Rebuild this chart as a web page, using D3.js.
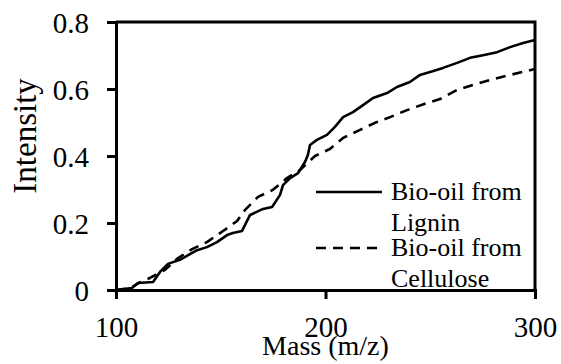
<!DOCTYPE html>
<html>
<head>
<meta charset="utf-8">
<script src="https://cdn.jsdelivr.net/npm/d3@7"></script>
<style>
  body { margin: 0; background: #fff; }
  svg { display: block; font-family: "Liberation Serif", "Times New Roman", serif; }
</style>
</head>
<body>
<div class="chart"></div>
<script>
// mass axis (m/z) and intensity for each bio-oil
const ligninMass = [100, 107.6, 110.5, 117.7, 121, 124.8, 130.5, 135.3, 138.7, 143.4, 148.2, 153, 155.8, 160.1,
  164, 170.2, 174.5, 178.3, 179.7, 183.1, 186.9, 190.2, 191.6, 192.6, 195.9, 200.7, 204.5, 208.4, 213.1,
  217.9, 222.7, 229.4, 234.1, 240.3, 245.1, 249.9, 256.1, 262.8, 269, 275.2, 281.9, 288.1, 294.3, 300];
const ligninIntensity = [0, 0.006, 0.021, 0.024, 0.054, 0.078, 0.09, 0.107, 0.119, 0.128, 0.143, 0.164, 0.17, 0.176,
  0.224, 0.242, 0.248, 0.284, 0.313, 0.334, 0.349, 0.382, 0.403, 0.433, 0.448, 0.463, 0.487, 0.516, 0.531,
  0.552, 0.573, 0.588, 0.606, 0.621, 0.642, 0.651, 0.663, 0.678, 0.693, 0.701, 0.71, 0.725, 0.737, 0.746];

const celluloseMass = [100, 106.7, 110.5, 116.2, 123.4, 129.1, 136.3, 143.4, 151.1, 157.8, 161.6, 167.8, 174.9,
  181.6, 187.8, 195, 202.1, 208.4, 216.5, 223.6, 230.8, 238.9, 248.4, 254.7, 262.8, 270.4, 278.5, 288.1, 296.2, 300];
const celluloseIntensity = [0, 0.005, 0.02, 0.036, 0.06, 0.093, 0.122, 0.143, 0.176, 0.206, 0.239, 0.278, 0.299,
  0.334, 0.358, 0.4, 0.421, 0.454, 0.478, 0.499, 0.516, 0.537, 0.558, 0.57, 0.597, 0.612, 0.627, 0.642, 0.654, 0.66];

const xTicks = [100, 200, 300];
const yTicks = [0, 0.2, 0.4, 0.6, 0.8];
const seriesNames = ["Bio-oil from Lignin", "Bio-oil from Cellulose"];

const width = 561;
const height = 364;
const margin = { top: 22, right: 26, bottom: 74, left: 116 };

const svg = d3.select(".chart")
  .append("svg")
  .attr("width", width)
  .attr("height", height);

const x = d3.scaleLinear().domain([100, 300]).range([margin.left, width - margin.right]);
const y = d3.scaleLinear().domain([0, 0.8]).range([height - margin.bottom, margin.top]);

const series = [
  { name: seriesNames[0], pts: d3.zip(ligninMass, ligninIntensity), dash: null },
  { name: seriesNames[1], pts: d3.zip(celluloseMass, celluloseIntensity), dash: "10,7" }
];

// frame: top and right edges
svg.append("path")
  .attr("d", `M${x(100)},${y(0.8)}H${x(300)}V${y(0)}`)
  .attr("fill", "none")
  .attr("stroke", "#000")
  .attr("stroke-width", 3);

const line = d3.line()
  .x(d => x(d[0]))
  .y(d => y(d[1]));

svg.selectAll("path.series")
  .data(series)
  .enter()
  .append("path")
  .attr("class", "series")
  .attr("d", d => line(d.pts))
  .attr("fill", "none")
  .attr("stroke", "#000")
  .attr("stroke-width", 2.6)
  .attr("stroke-dasharray", d => d.dash)
  .attr("stroke-linejoin", "round");

// axes
const xAxis = svg.append("g")
  .attr("transform", `translate(0,${y(0)})`)
  .call(d3.axisBottom(x).tickValues(xTicks).tickSize(9).tickPadding(17).tickFormat(d3.format("d")));

const yAxis = svg.append("g")
  .attr("transform", `translate(${x(100)},0)`)
  .call(d3.axisLeft(y).tickValues(yTicks).tickSize(9).tickPadding(18)
    .tickFormat(d => d === 0 ? "0" : d.toFixed(1)));

[xAxis, yAxis].forEach(a => {
  a.attr("font-family", null);
  a.select(".domain").attr("stroke-width", 3);
  a.selectAll(".tick line").attr("stroke-width", 3);
  a.selectAll(".tick text")
    .attr("fill", "#000")
    .style("font-size", "29px");
});
xAxis.selectAll(".tick text").attr("dy", "0.71em");
yAxis.selectAll(".tick text").attr("dy", "0.36em");

// axis titles
svg.append("text")
  .attr("x", x(200))
  .attr("y", 355)
  .attr("text-anchor", "middle")
  .style("font-size", "28px")
  .text("Mass (m/z)");

svg.append("text")
  .attr("transform", `translate(36,${y(0.46)}) rotate(-90)`)
  .attr("text-anchor", "middle")
  .style("font-size", "33px")
  .text("Intensity");

// legend
const legend = svg.append("g").attr("transform", "translate(316,0)");
const legendRows = [192, 248];
const legendLines = [["Bio-oil from", "Lignin"], ["Bio-oil from", "Cellulose"]];

const item = legend.selectAll("g")
  .data(series)
  .enter()
  .append("g")
  .attr("transform", (d, i) => `translate(0,${legendRows[i]})`);

item.append("line")
  .attr("x1", 0)
  .attr("x2", 66)
  .attr("stroke", "#000")
  .attr("stroke-width", 2.6)
  .attr("stroke-dasharray", d => d.dash);

item.each(function (d, i) {
  const t = d3.select(this).append("text")
    .attr("x", 75)
    .attr("y", 8)
    .style("font-size", "26px");
  t.append("tspan").attr("x", 75).text(legendLines[i][0]);
  t.append("tspan").attr("x", 75).attr("dy", 31).text(legendLines[i][1]);
});
</script>
</body>
</html>
